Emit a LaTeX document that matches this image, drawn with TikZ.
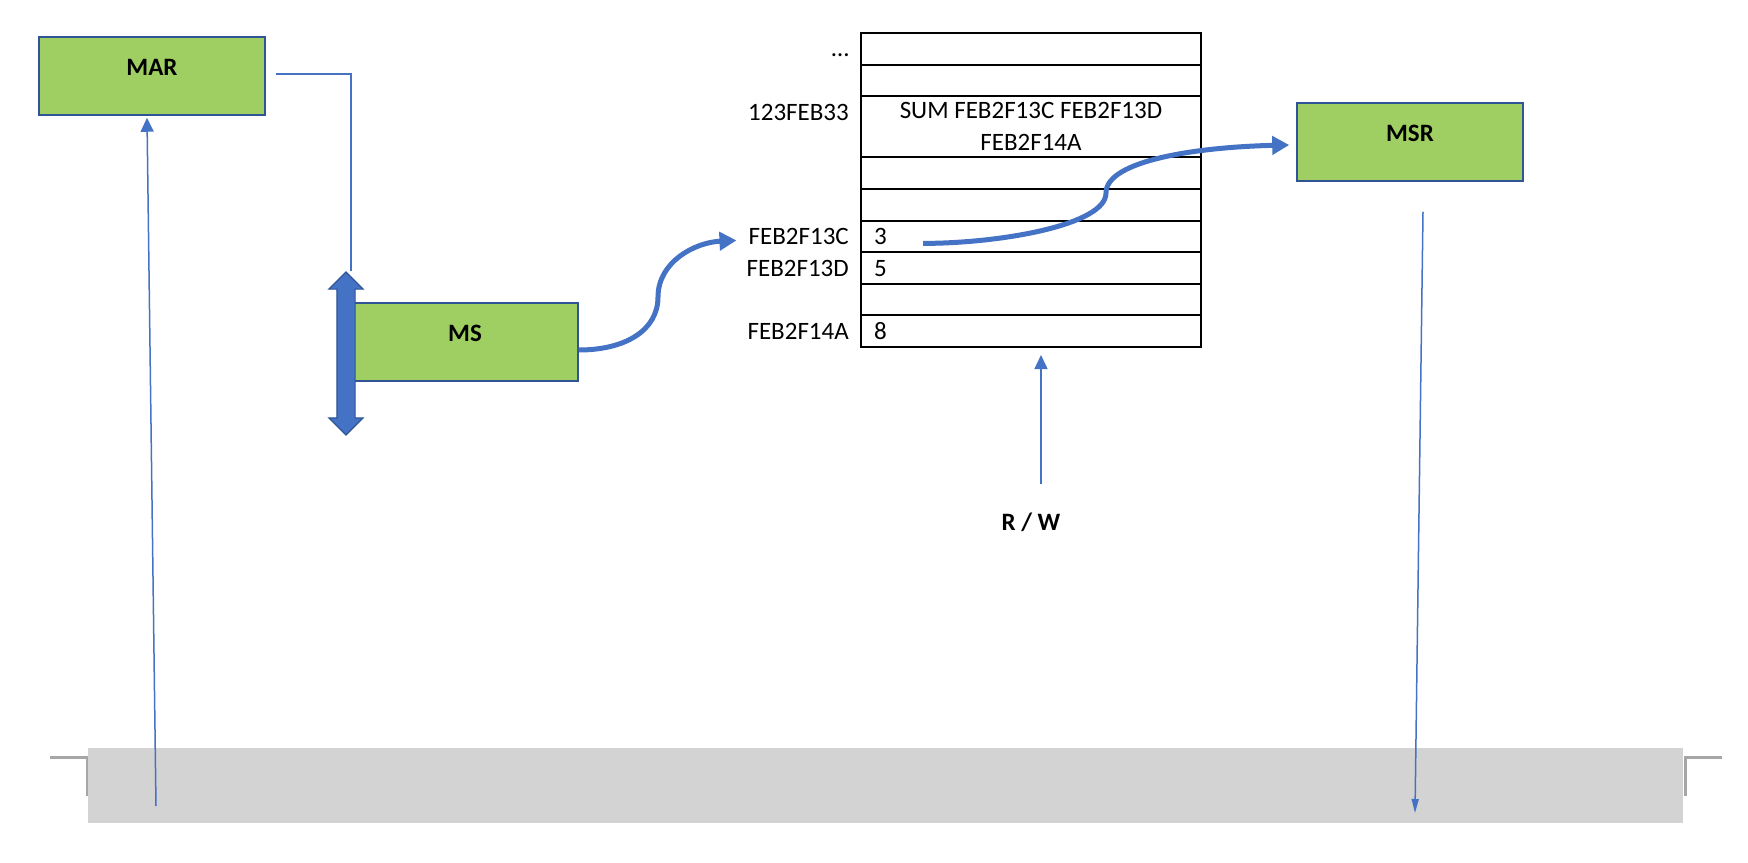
\documentclass[tikz,border=0pt]{standalone}
\usepackage{fontspec}
\setmainfont{Carlito}
\usetikzlibrary{arrows.meta,positioning,calc,shapes.arrows}
\definecolor{boxgreen}{HTML}{9FCF63}
\definecolor{boxedge}{HTML}{2F5597}
\definecolor{linkblue}{HTML}{4472C4}
\definecolor{busgrey}{HTML}{D3D3D3}
\definecolor{tabgrey}{HTML}{A6A6A6}
\newcommand{\diagfont}{\fontsize{25}{32}\selectfont}
\tikzset{
  box/.style={draw=boxedge, fill=boxgreen, line width=1.5pt, minimum width=226pt,
              minimum height=78pt, inner sep=0pt, font=\diagfont\bfseries,
              text height=16pt, text depth=18pt},
  cell/.style={draw, line width=2pt, minimum width=340pt, minimum height=31.6pt,
               inner sep=0pt, outer sep=0pt, font=\diagfont},
  addr/.style={inner sep=0pt, text height=16pt, text depth=0pt, font=\diagfont},
  rwlabel/.style={addr, font=\diagfont\bfseries},
  dblarrow/.style={double arrow, draw=boxedge, fill=linkblue, line width=1.2pt, rotate=90,
                   minimum height=163pt, minimum width=33pt, inner xsep=0pt, inner ysep=8.5pt,
                   double arrow head extend=8pt},
  busbar/.style={fill=busgrey, minimum width=1595pt, minimum height=75pt, inner sep=0pt},
  tab/.style={tabgrey, line width=3pt},
  wire/.style={linkblue, line width=1.5pt},
  feed/.style={-{Triangle[width=13pt,length=14pt]}, linkblue, line width=1.5pt},
  hop/.style={-{Triangle[width=18pt,length=17pt]}, linkblue, line width=5pt},
}
\begin{document}
\begin{tikzpicture}[x=1pt, y=-1pt, node distance=12pt]
  \useasboundingbox (0,0) rectangle (1748,862);

  % bus
  \draw[tab] (50,757.5) -- (87,757.5) -- (87,796);
  \draw[tab] (1722,757.5) -- (1685,757.5) -- (1685,796);
  \node[busbar] (bus) at (885.5,785.5) {};
  \coordinate (busin) at (156,806);
  \coordinate (busout) at (1415,813);

  \node[box] (mar) at (152,76) {MAR};
  \node[box] (ms) at (465,342) {MS};
  \node[box] (msr) at (1410,142) {MSR};
  \node[dblarrow] (dbl) at (346,353.5) {};

  % memory
  \node[cell] (r1) at (1031,48.8) {};
  \node[cell, below=0pt of r1] (r2) {};
  \node[cell, below=0pt of r2, minimum height=61.2pt, align=center] (r3) {SUM FEB2F13C FEB2F13D\\FEB2F14A};
  \node[cell, below=0pt of r3] (r4) {};
  \node[cell, below=0pt of r4] (r5) {};
  \node[cell, below=0pt of r5] (r6) {};
  \node[cell, below=0pt of r6] (r7) {};
  \node[cell, below=0pt of r7] (r8) {};
  \node[cell, below=0pt of r8] (r9) {};

  \node[addr, left=of r1] (adots) {\dots};
  \node[addr, left=of r3, yshift=14.5pt] (a123) {123FEB33};
  \node[addr, left=of r6] (a13c) {FEB2F13C};
  \node[addr, left=of r7] (a13d) {FEB2F13D};
  \node[addr, left=of r9] (a14a) {FEB2F14A};
  \node[addr, right=13pt of r6.west] (v13c) {3};
  \node[addr, right=13pt of r7.west] (v13d) {5};
  \node[addr, right=13pt of r9.west] (v14a) {8};

  \node[rwlabel] (rw) at (1031,522) {R / W};

  \coordinate (msbend) at (658,297);
  \coordinate (cellbend) at (1106,193);

  \draw[wire] ($(mar.east)+(10,-2)$) -| ([xshift=5pt]dbl.east);
  \draw[feed] (busin) -- ($(mar.south)+(-5,2)$);
  \draw[feed, -{Triangle[width=7pt,length=14pt]}] ($(msr.south)+(13,30)$) -- (busout);
  \draw[feed] ($(rw.north)+(10,-30)$) -- ($(r9.south)+(10,8)$);
  \draw[hop] ($(ms.east)+(0,8)$) .. controls +(47,0) and +(0,33) .. (msbend)
    .. controls +(0,-35) and +(-42,2) .. ($(a13c.west)+(-12,4)$);
  \draw[hop] ($(v13c.east)+(36,7)$) .. controls +(77,0) and +(0,32) .. (cellbend)
    .. controls +(0,-33) and +(-90,2) .. ($(msr.west)+(-7,3)$);
\end{tikzpicture}
\end{document}
